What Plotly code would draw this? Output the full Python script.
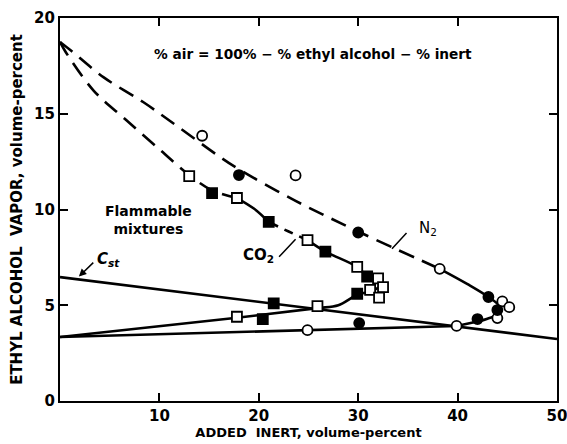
import plotly.graph_objects as go

# ---- data ----
n2_open_x = [14.3, 23.7, 38.2, 44.5, 45.2, 44.0, 39.9, 24.9]
n2_open_y = [13.85, 11.78, 6.9, 5.2, 4.9, 4.33, 3.92, 3.7]
n2_fill_x = [18.0, 30.0, 43.1, 44.0, 42.0, 30.1]
n2_fill_y = [11.8, 8.8, 5.43, 4.75, 4.28, 4.07]

co2_open_x = [13.0, 17.8, 24.9, 29.9, 32.0, 32.5, 31.2, 32.1, 25.9, 17.8]
co2_open_y = [11.74, 10.6, 8.4, 7.0, 6.4, 5.95, 5.8, 5.4, 4.95, 4.4]
co2_fill_x = [15.3, 21.0, 26.7, 30.9, 29.9, 21.5, 20.4]
co2_fill_y = [10.86, 9.35, 7.8, 6.5, 5.6, 5.1, 4.28]

n2_dash_x = [0, 1.1, 4.4, 8.4, 11.8, 16.1, 18.0, 23.7, 30.0, 38.2]
n2_dash_y = [18.75, 18.3, 16.9, 15.6, 14.35, 12.74, 12.1, 10.45, 8.85, 6.9]
n2_solid_x = [38.2, 41.0, 43.1, 44.2, 44.1, 43.0, 42.0, 39.9]
n2_solid_y = [6.9, 6.1, 5.43, 4.95, 4.55, 4.3, 4.15, 3.92]
n2_base_x = [39.9, 24.9, 0]
n2_base_y = [3.92, 3.7, 3.34]

co2_dash1_x = [0, 0.6, 3.4, 6.6, 10.1, 13.0, 15.3, 17.8]
co2_dash1_y = [18.75, 18.2, 16.2, 14.7, 13.1, 11.8, 11.0, 10.6]
co2_mid_x = [17.8, 19.5, 21.0]
co2_mid_y = [10.6, 10.05, 9.35]
co2_dash2_x = [21.0, 23.0, 24.9]
co2_dash2_y = [9.35, 8.85, 8.4]
co2_solid_x = [24.9, 26.7, 29.9, 30.9, 32.2, 31.4, 29.9, 28.0, 25.9, 17.8, 0]
co2_solid_y = [8.4, 7.8, 7.0, 6.5, 6.05, 5.75, 5.55, 5.0, 4.85, 4.35, 3.34]

cst_x = [0, 50]
cst_y = [6.47, 3.24]

x_ticks = [0, 10, 20, 30, 40, 50]
x_tick_text = ["", "10", "20", "30", "40", "50"]
y_ticks = [0, 5, 10, 15, 20]
y_tick_text = ["0", "5", "10", "15", "20"]

FONT = "DejaVu Sans"
BLACK = "black"

fig = go.Figure()


def line(x, y, dash="solid", shape="spline", smoothing=1.0):
    fig.add_trace(go.Scatter(x=x, y=y, mode="lines",
                             line=dict(color=BLACK, width=2.6, dash=dash,
                                       shape=shape, smoothing=smoothing),
                             hoverinfo="skip", showlegend=False))


line(n2_dash_x, n2_dash_y, dash="16px,9px")
line(n2_solid_x, n2_solid_y)
line(n2_base_x, n2_base_y, shape="linear")
line(co2_dash1_x, co2_dash1_y, dash="16px,9px")
line(co2_mid_x, co2_mid_y)
line(co2_dash2_x, co2_dash2_y, dash="10px,7px")
line(co2_solid_x, co2_solid_y, smoothing=0.9)
line(cst_x, cst_y, shape="linear")


def markers(x, y, symbol, filled, size):
    fig.add_trace(go.Scatter(x=x, y=y, mode="markers",
                             marker=dict(symbol=symbol, size=size,
                                         color=BLACK if filled else "white",
                                         line=dict(color=BLACK, width=1.8)),
                             hoverinfo="skip", showlegend=False))


markers(n2_open_x, n2_open_y, "circle", False, 10)
markers(n2_fill_x, n2_fill_y, "circle", True, 10)
markers(co2_open_x, co2_open_y, "square", False, 10)
markers(co2_fill_x, co2_fill_y, "square", True, 10)

ann_font = dict(family=FONT, size=14, color=BLACK, weight="bold")
fig.add_annotation(x=25.5, y=18.1, text="% air = 100% \u2212 % ethyl alcohol \u2212 % inert",
                   showarrow=False,
                   font=dict(family=FONT, size=13.7, color=BLACK, weight="bold"))
fig.add_annotation(x=8.9, y=9.45, text="Flammable<br>mixtures",
                   showarrow=False, font=ann_font)
fig.add_annotation(x=23.7, y=8.45, ax=21.9, ay=7.45, axref="x", ayref="y",
                   text="", showarrow=True, arrowhead=0, arrowwidth=1.5, arrowcolor=BLACK)
fig.add_annotation(x=20.0, y=7.6, text="CO<sub>2</sub>", showarrow=False,
                   font=dict(family=FONT, size=15, color=BLACK, weight="bold"))
fig.add_annotation(x=33.4, y=7.95, ax=35.0, ay=8.85, axref="x", ayref="y",
                   text="", showarrow=True, arrowhead=0, arrowwidth=1.5, arrowcolor=BLACK)
fig.add_annotation(x=37.0, y=9.0, text="N<sub>2</sub>", showarrow=False,
                   font=dict(family=FONT, size=15, color=BLACK))
fig.add_annotation(x=1.9, y=6.5, ax=3.5, ay=7.3, axref="x", ayref="y",
                   text="", showarrow=True, arrowhead=2, arrowsize=1, arrowwidth=1.5,
                   arrowcolor=BLACK)
fig.add_annotation(x=4.9, y=7.4, text="<i>C<sub>st</sub></i>", showarrow=False,
                   font=dict(family=FONT, size=15, color=BLACK, weight="bold"))

axis_common = dict(showline=True, linecolor=BLACK, linewidth=2.2, mirror="ticks",
                   ticks="inside", ticklen=8, tickwidth=1.5, tickcolor=BLACK,
                   showgrid=False, zeroline=False, automargin=False,
                   ticklabeloverflow="allow",
                   tickfont=dict(family=FONT, size=15, color=BLACK, weight="bold"))

fig.update_xaxes(range=[0, 50], tickvals=x_ticks, ticktext=x_tick_text,
                 title=dict(text="ADDED  INERT, volume-percent", standoff=2,
                            font=dict(family=FONT, size=13, color=BLACK, weight="bold")),
                 **axis_common)
fig.update_yaxes(range=[0, 20], tickvals=y_ticks, ticktext=y_tick_text,
                 title=dict(text="ETHYL ALCOHOL  VAPOR, volume-percent", standoff=8,
                            font=dict(family=FONT, size=15, color=BLACK, weight="bold")),
                 **axis_common)

fig.update_layout(width=567, height=444, margin=dict(l=60, r=10, t=18, b=43),
                  paper_bgcolor="white", plot_bgcolor="white")

fig.write_html("out.html", config={"displayModeBar": False},
               post_script="document.body.style.margin='0';document.body.style.overflow='hidden';")
